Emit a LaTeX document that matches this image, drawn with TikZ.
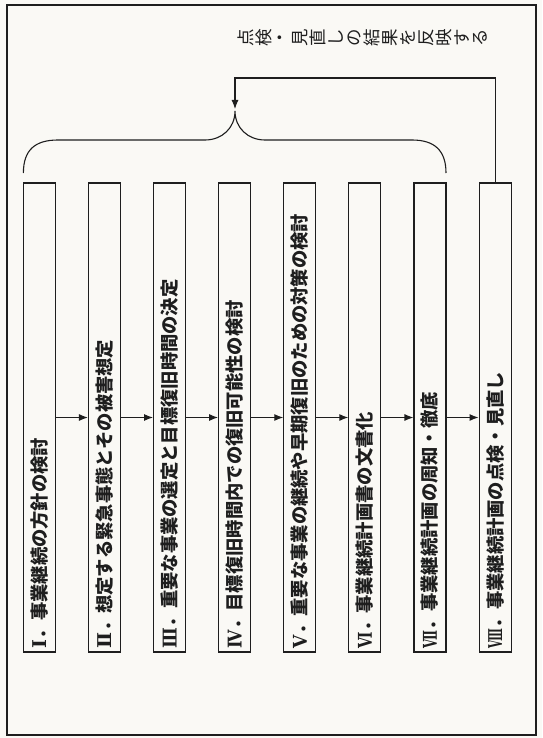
\documentclass[tikz,border=0pt]{standalone}
\usepackage{graphicx}
\usepackage{fontspec}
\setmainfont{Noto Sans CJK JP}
\newfontfamily\rnfont{DejaVu Serif}
\usetikzlibrary{arrows.meta}
\definecolor{paper}{RGB}{250,249,245}
\definecolor{ink}{RGB}{30,30,30}
\newcommand\rnum[2]{\scalebox{#1}[1]{\rnfont\fontsize{19}{20}\selectfont #2}}
\begin{document}
\begin{tikzpicture}[x=1pt,y=-1pt,
  box/.style={draw=ink,line width=1.1pt,rotate=90,minimum height=32pt,text width=461pt,inner xsep=4pt,inner ysep=0pt,align=left,text=ink,font=\bfseries\fontsize{18.3}{20}\selectfont},
  flow/.style={draw=ink,line width=1.1pt,-{Latex[length=9pt,width=7pt]}},
  lab/.style={rotate=90,inner sep=0pt,text=ink,font=\fontsize{17.5}{19}\selectfont}]
\fill[paper] (0,0) rectangle (542,738);
\useasboundingbox (0,0) rectangle (542,738);
\draw[ink,line width=1.2pt] (7,5) rectangle (536,735);
\foreach \n/\s/\t [count=\i] in {Ⅰ/1/事業継続の方針の検討,
  Ⅱ/1/想定する緊急事態とその被害想定,
  Ⅲ/0.9/重要な事業の選定と目標復旧時間の決定,
  Ⅳ/0.85/目標復旧時間内での復旧可能性の検討,
  Ⅴ/0.9/重要な事業の継続や早期復旧のための対策の検討,
  Ⅵ/0.75/事業継続計画書の文書化,
  Ⅶ/0.62/事業継続計画の周知・徹底,
  Ⅷ/0.55/事業継続計画の点検・見直し}
  \node[box] (b\i) at ({39.4+65.1*(\i-1)},417.5) {\rnum{\s}{\n}．\t};
\foreach \i [evaluate=\i as \j using int(\i+1)] in {1,...,7}
  \draw[flow] (b\i.south) -- (b\j.north);
\coordinate (bl) at (23.4,173);
\coordinate (br) at (446,173);
\coordinate (cusp) at (235,111);
\draw[ink,line width=1.1pt] (bl) .. controls (23.4,150) and (35,140) .. (58,140) -- (205,140)
  .. controls (222,140) and (235,128) .. (cusp)
  .. controls (235,128) and (248,140) .. (265,140) -- (412,140)
  .. controls (434,140) and (446,150) .. (br);
\coordinate (fbc) at (235,78);
\coordinate (fbtip) at (235,109);
\draw[flow] (b8.east) |- (fbc) -- (fbtip);
\foreach \c [count=\i] in {点,検,・,見,直,し,の,結,果,を,反,映,す,る}
  \node[lab] (l\i) at ({246+18*(\i-1)},38) {\c};
\end{tikzpicture}
\end{document}
